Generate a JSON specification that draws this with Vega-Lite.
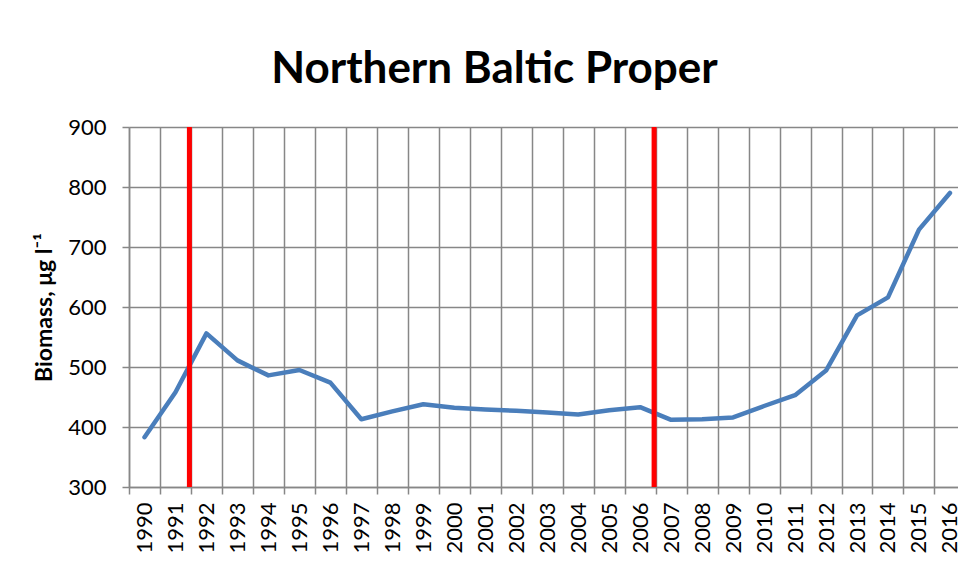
{
  "$schema": "https://vega.github.io/schema/vega-lite/v6.json",
  "width": 829,
  "height": 360,
  "autosize": {"type": "none"},
  "padding": {"left": 129, "top": 127, "right": 0, "bottom": 95},
  "background": "white",
  "title": {
    "text": "Northern Baltic Proper",
    "font": "Lato",
    "fontSize": 44,
    "fontWeight": "bold",
    "color": "black",
    "anchor": "middle",
    "dx": -49,
    "dy": 55,
    "baseline": "alphabetic",
    "offset": 44
  },
  "config": {"view": {"stroke": null}},
  "layer": [
    {
      "data": {
        "values": [
          {"year": 1990, "biomass": 383},
          {"year": 1991, "biomass": 458},
          {"year": 1992, "biomass": 556},
          {"year": 1993, "biomass": 511},
          {"year": 1994, "biomass": 486},
          {"year": 1995, "biomass": 495},
          {"year": 1996, "biomass": 474},
          {"year": 1997, "biomass": 413},
          {"year": 1998, "biomass": 426},
          {"year": 1999, "biomass": 438},
          {"year": 2000, "biomass": 432},
          {"year": 2001, "biomass": 429},
          {"year": 2002, "biomass": 427},
          {"year": 2003, "biomass": 424},
          {"year": 2004, "biomass": 421},
          {"year": 2005, "biomass": 428},
          {"year": 2006, "biomass": 433},
          {"year": 2007, "biomass": 412},
          {"year": 2008, "biomass": 413},
          {"year": 2009, "biomass": 416},
          {"year": 2010, "biomass": 435},
          {"year": 2011, "biomass": 453},
          {"year": 2012, "biomass": 494},
          {"year": 2013, "biomass": 586},
          {"year": 2014, "biomass": 616},
          {"year": 2015, "biomass": 729},
          {"year": 2016, "biomass": 790}
        ]
      },
      "mark": {"type": "line", "color": "#4a7ebb", "strokeWidth": 4.5, "strokeJoin": "round", "strokeCap": "round"},
      "encoding": {
        "x": {
          "field": "year",
          "type": "quantitative",
          "scale": {"domain": [1989.5, 2016.26], "nice": false, "zero": false},
          "axis": {
            "values": [1989.5, 1990.5, 1991.5, 1992.5, 1993.5, 1994.5, 1995.5, 1996.5, 1997.5, 1998.5, 1999.5, 2000.5, 2001.5, 2002.5, 2003.5, 2004.5, 2005.5, 2006.5, 2007.5, 2008.5, 2009.5, 2010.5, 2011.5, 2012.5, 2013.5, 2014.5, 2015.5],
            "tickCount": 40,
            "grid": true,
            "gridColor": "#878787",
            "gridWidth": 1.5,
            "gridOpacity": 1,
            "domainColor": "#878787",
            "domainWidth": 1.5,
            "tickColor": "#878787",
            "tickWidth": 1.5,
            "tickSize": 7,
            "labelAngle": 270,
            "labelFont": "Lato",
            "labelFontSize": 22,
            "labelColor": "black",
            "labelPadding": 8,
            "labelOffset": 15.5,
            "labelExpr": "datum.value < 2016 ? format(datum.value + 0.5, 'd') : ''",
            "labelOverlap": false,
            "labelBound": false,
            "labelFlush": false,
            "title": null
          }
        },
        "y": {
          "field": "biomass",
          "type": "quantitative",
          "scale": {"domain": [300, 900], "nice": false, "zero": false},
          "axis": {
            "values": [300, 400, 500, 600, 700, 800, 900],
            "tickCount": 10,
            "grid": true,
            "gridColor": "#878787",
            "gridWidth": 1.5,
            "gridOpacity": 1,
            "domainColor": "#878787",
            "domainWidth": 1.5,
            "tickColor": "#878787",
            "tickWidth": 1.5,
            "tickSize": 7,
            "labelFont": "Lato",
            "labelFontSize": 22,
            "labelColor": "black",
            "labelPadding": 16,
            "labelOverlap": false,
            "labelFlush": false,
            "title": "Biomass, μg l⁻¹",
            "titleFont": "Lato",
            "titleFontSize": 23,
            "titleFontWeight": "bold",
            "titleColor": "black",
            "titleAngle": 270,
            "titleAlign": "center",
            "titleBaseline": "alphabetic",
            "titleX": -78,
            "titleY": 180
          }
        }
      }
    },
    {
      "data": {"values": [{"year": 1991.45}, {"year": 2006.45}]},
      "mark": {"type": "rule", "color": "#ff0000", "strokeWidth": 5},
      "encoding": {
        "x": {"field": "year", "type": "quantitative"}
      }
    }
  ]
}
